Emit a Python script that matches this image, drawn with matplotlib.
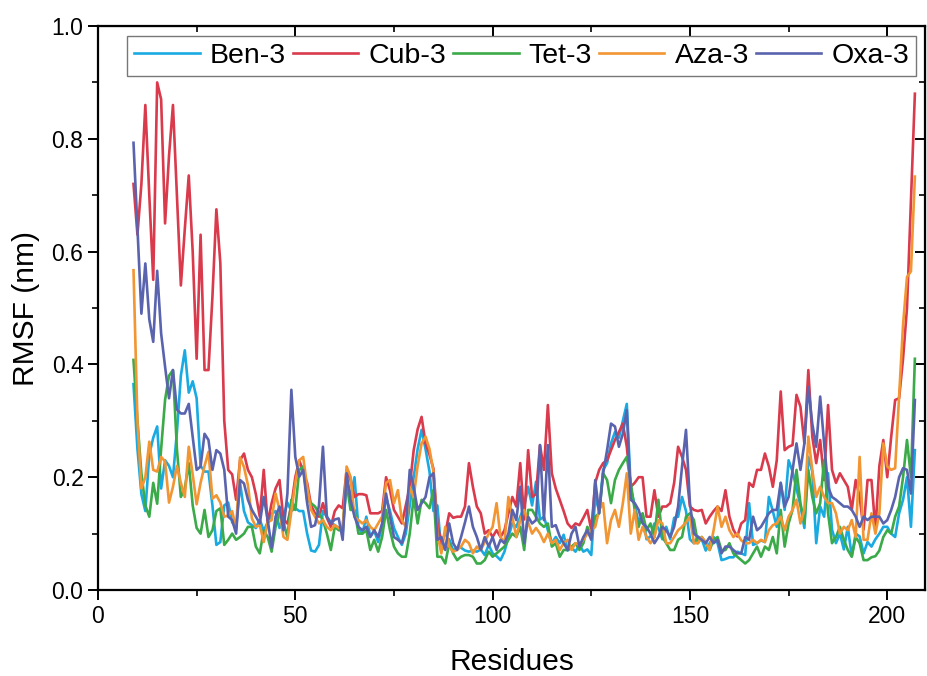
import numpy as np
import matplotlib
matplotlib.use('Agg')
import matplotlib.pyplot as plt
from matplotlib.ticker import MultipleLocator, FormatStrFormatter

plt.rcParams['font.family'] = ['Liberation Sans', 'DejaVu Sans']

# residue numbers 9..207
residues = np.arange(9, 208)

# RMSF (nm), one value per residue
ben3 = [.365, .25, .17, .14, .24, .27, .29, .18, .23,
        .22, .20, .28, .38, .425, .35, .37, .34, .22, .21,
        .21, .15, .08, .085, .15, .155, .12, .11, .19,
        .14, .12, .115, .11, .125, .105, .12, .135, .14, .11,
        .13, .155, .14, .145, .14, .14, .10, .07, .068,
        .08, .14, .13, .12, .115, .11, .10, .195, .165,
        .20, .11, .10, .13, .095, .105, .085, .115, .165, .14,
        .11, .094, .08, .10, .15, .20, .25, .284, .25,
        .21, .14, .15, .07, .08, .09, .07, .075, .075,
        .07, .068, .07, .068, .072, .062, .08, .065, .06, .053,
        .068, .094, .118, .112, .13, .148, .183, .15, .192,
        .125, .13, .106, .083, .094, .083, .098, .07, .075,
        .068, .08, .068, .072, .062, .165, .14, .213, .225, .26,
        .28, .27, .30, .33, .18, .15, .12, .135, .09,
        .095, .118, .11, .09, .112, .09, .128, .13, .165, .14,
        .09, .083, .095, .09, .07, .083, .094, .083, .053,
        .055, .058, .058, .068, .065, .062, .154, .08, .083, .088,
        .085, .165, .14, .112, .19, .142, .23, .21, .18,
        .15, .11, .236, .21, .083, .148, .13, .207, .107, .083,
        .10, .072, .112, .06, .10, .095, .065, .085, .077,
        .09, .10, .112, .112, .10, .094, .136, .16, .20, .112,
        .248]

cub3 = [.72, .63, .72, .86, .70, .55, .90, .87, .65,
        .77, .86, .70, .54, .64, .735, .60, .41, .63, .39,
        .39, .52, .675, .58, .30, .213, .205, .16, .23,
        .242, .213, .20, .17, .13, .213, .118, .154, .18, .195,
        .125, .118, .15, .20, .23, .21, .19, .15, .136,
        .13, .154, .128, .112, .14, .15, .145, .213, .195,
        .165, .17, .17, .168, .136, .136, .136, .14, .20, .177,
        .142, .13, .118, .15, .183, .248, .285, .307, .26,
        .24, .215, .118, .083, .10, .136, .128, .13, .13,
        .148, .225, .183, .148, .136, .10, .106, .094, .106, .094,
        .106, .136, .165, .148, .225, .125, .248, .165, .17,
        .257, .213, .328, .207, .18, .16, .14, .118, .11,
        .118, .115, .128, .142, .106, .19, .213, .225, .23, .248,
        .266, .28, .295, .254, .183, .19, .20, .20, .13,
        .13, .177, .13, .148, .148, .154, .19, .254, .236, .213,
        .148, .142, .14, .142, .118, .13, .14, .148, .14,
        .177, .13, .107, .095, .118, .124, .19, .183, .213, .213,
        .242, .219, .183, .23, .352, .248, .254, .257, .346,
        .325, .26, .39, .272, .225, .266, .195, .328, .213, .19,
        .207, .195, .183, .142, .195, .165, .107, .195, .195,
        .107, .22, .266, .20, .272, .337, .34, .41, .50, .69,
        .88]

tet3 = [.408, .30, .207, .15, .13, .19, .153, .25, .337,
        .38, .39, .25, .165, .18, .225, .15, .11, .10, .142,
        .094, .106, .14, .145, .08, .089, .10, .089, .094,
        .10, .112, .112, .077, .065, .106, .094, .068, .112, .136,
        .12, .094, .16, .142, .213, .219, .16, .154, .148,
        .136, .124, .10, .071, .112, .106, .112, .19, .142,
        .142, .10, .10, .106, .071, .089, .068, .094, .142, .106,
        .077, .065, .059, .059, .10, .165, .118, .16, .154,
        .145, .177, .059, .059, .047, .083, .065, .053, .059,
        .062, .062, .059, .047, .047, .053, .068, .059, .065, .071,
        .077, .089, .10, .094, .112, .071, .142, .142, .13,
        .118, .112, .118, .077, .083, .059, .071, .071, .077,
        .083, .071, .083, .112, .094, .13, .136, .207, .195, .154,
        .195, .213, .225, .236, .19, .142, .112, .136, .106,
        .118, .094, .16, .094, .083, .071, .071, .089, .094, .13,
        .136, .124, .083, .094, .083, .071, .089, .094, .07,
        .071, .083, .065, .059, .053, .047, .053, .065, .077, .059,
        .077, .071, .094, .065, .142, .077, .118, .142, .213,
        .154, .118, .213, .165, .136, .154, .23, .136, .083, .094,
        .112, .089, .071, .059, .094, .083, .053, .053, .058,
        .06, .07, .094, .106, .10, .13, .148, .20, .266, .20,
        .41]

aza3 = [.567, .30, .18, .20, .263, .213, .21, .236, .228,
        .155, .183, .22, .19, .165, .254, .205, .152, .19, .22,
        .245, .162, .168, .155, .13, .132, .14, .108, .235,
        .218, .186, .127, .112, .115, .085, .12, .124, .171, .142,
        .094, .089, .14, .19, .23, .236, .183, .142, .13,
        .118, .124, .112, .106, .115, .11, .106, .219, .201,
        .13, .124, .118, .124, .112, .106, .118, .13, .19, .195,
        .154, .177, .124, .112, .183, .165, .22, .26, .272,
        .25, .21, .10, .065, .112, .077, .068, .071, .077,
        .089, .083, .065, .077, .071, .085, .10, .112, .154, .094,
        .083, .165, .13, .094, .124, .142, .12, .10, .11,
        .10, .085, .10, .083, .089, .071, .083, .089, .071,
        .083, .08, .089, .10, .106, .112, .142, .154, .083, .124,
        .142, .112, .154, .207, .10, .142, .089, .112, .094,
        .083, .094, .124, .118, .083, .083, .094, .106, .112, .12,
        .13, .083, .083, .094, .085, .071, .106, .148, .112,
        .13, .106, .094, .10, .088, .083, .083, .089, .083, .089,
        .085, .106, .115, .118, .13, .106, .13, .142, .16,
        .118, .142, .272, .213, .165, .183, .165, .154, .154, .136,
        .10, .112, .106, .124, .094, .236, .089, .089, .136,
        .10, .136, .26, .219, .213, .216, .343, .47, .555, .565,
        .733]

oxa3 = [.793, .64, .49, .579, .48, .44, .566, .455, .396,
        .34, .39, .32, .313, .313, .33, .272, .213, .219, .277,
        .266, .213, .248, .242, .213, .13, .124, .10, .195,
        .189, .16, .142, .13, .118, .165, .125, .075, .13, .148,
        .106, .171, .355, .236, .201, .213, .154, .112, .115,
        .15, .254, .13, .118, .125, .127, .089, .207, .16,
        .13, .112, .106, .112, .094, .106, .094, .118, .171, .13,
        .094, .089, .083, .112, .213, .183, .142, .154, .165,
        .20, .207, .089, .094, .071, .118, .083, .071, .094,
        .12, .148, .112, .094, .071, .094, .077, .094, .071, .089,
        .083, .10, .142, .124, .183, .083, .13, .118, .124,
        .257, .124, .257, .112, .115, .095, .083, .071, .10,
        .112, .077, .094, .106, .089, .195, .136, .207, .248, .295,
        .29, .254, .277, .319, .16, .154, .142, .118, .112,
        .10, .083, .094, .112, .106, .094, .112, .148, .219, .284,
        .154, .10, .094, .089, .083, .094, .083, .089, .065,
        .077, .077, .071, .065, .065, .094, .089, .13, .106, .112,
        .124, .136, .142, .142, .19, .148, .165, .213, .26,
        .213, .26, .36, .295, .254, .343, .26, .183, .165, .16,
        .154, .148, .148, .142, .13, .112, .13, .124, .13,
        .13, .13, .118, .124, .142, .165, .20, .216, .213, .171,
        .337]

labels = ['Ben-3', 'Cub-3', 'Tet-3', 'Aza-3', 'Oxa-3']
colors = ['#1AAAE2', '#D93A4C', '#3BAA48', '#F29533', '#5A64AE']
series = [ben3, cub3, tet3, aza3, oxa3]

for s in series:
    assert len(s) == len(residues), len(s)

fig = plt.figure(figsize=(9.27, 6.76), dpi=100)
ax = fig.add_axes([0.1057, 0.1272, 0.8923, 0.8343])

for y, lab, c in zip(series, labels, colors):
    ax.plot(residues, y, color=c, lw=1.9, label=lab)

ax.set_xlim(0, 209.6)
ax.set_ylim(0, 1.0)
ax.xaxis.set_major_locator(MultipleLocator(50))
ax.xaxis.set_minor_locator(MultipleLocator(25))
ax.yaxis.set_major_locator(MultipleLocator(0.2))
ax.yaxis.set_minor_locator(MultipleLocator(0.1))
ax.yaxis.set_major_formatter(FormatStrFormatter('%.1f'))

for sp in ax.spines.values():
    sp.set_linewidth(1.6)
ax.tick_params(which='major', direction='out', length=7, width=1.4, labelsize=16.5)
ax.tick_params(which='minor', direction='out', length=4, width=1.2)

# ticks pointing inward on the top and right frame
top = ax.secondary_xaxis('top')
top.xaxis.set_major_locator(MultipleLocator(50))
top.xaxis.set_minor_locator(MultipleLocator(25))
top.tick_params(which='major', direction='in', length=7, width=1.4, labeltop=False)
top.tick_params(which='minor', direction='in', length=4, width=1.2)
right = ax.secondary_yaxis('right')
right.yaxis.set_major_locator(MultipleLocator(0.2))
right.yaxis.set_minor_locator(MultipleLocator(0.1))
right.tick_params(which='major', direction='in', length=7, width=1.4, labelright=False)
right.tick_params(which='minor', direction='in', length=4, width=1.2)

ax.set_xlabel('Residues', fontsize=21.5, labelpad=15)
ax.set_ylabel('RMSF (nm)', fontsize=21.5, labelpad=8)

leg = ax.legend(ncol=5, loc='upper left', bbox_to_anchor=(0.035, 0.982),
                borderaxespad=0, fontsize=20.5, frameon=True, fancybox=False,
                handlelength=2.3, handletextpad=0.35, columnspacing=0.25,
                borderpad=0.25)
leg.get_frame().set_edgecolor('#555555')
leg.get_frame().set_linewidth(1.0)

fig.savefig('out.png', dpi=100)
